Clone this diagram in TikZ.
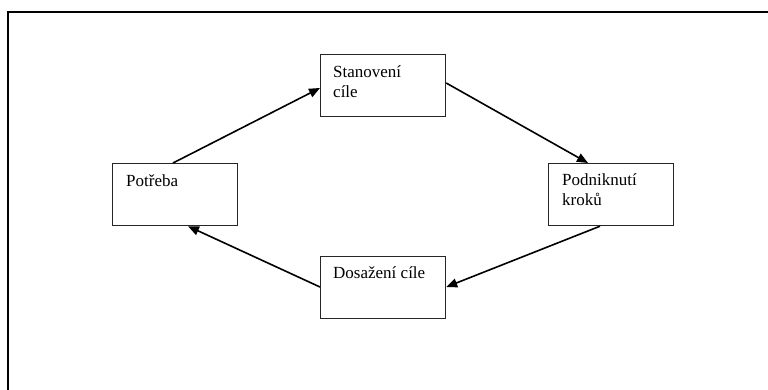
\documentclass[tikz,border=0pt]{standalone}
\usepackage{fontspec}
\setmainfont{Liberation Serif}
\usetikzlibrary{arrows.meta}
\begin{document}
\begin{tikzpicture}[x=1pt,y=-1pt,
  box/.style={draw=black!85, line width=1.2pt, rectangle, minimum width=125pt, minimum height=62pt, anchor=north west, inner sep=0pt},
  txt/.style={anchor=base west, inner sep=0pt, align=left, font=\fontsize{17}{20}\selectfont},
  conn/.style={line width=1.6pt, -{Triangle[length=11pt,width=9pt]}},
  frame/.style={line width=2.2pt}]
\useasboundingbox (0,0) rectangle (768,389);
% outer frame
\coordinate (ftr) at (770,12);
\coordinate (ftl) at (8,12);
\coordinate (fbl) at (8,391);
\draw[frame] (ftr) -- (ftl) -- (fbl);
% boxes
\node[box] (sta) at (320,54) {};
\node[box] (pot) at (112,163) {};
\node[box] (pod) at (548,163) {};
\node[box] (dos) at (320,256) {};
% texts
\node[txt] (staT) at ([shift={(13,43)}]sta.north west) {Stanovení\\cíle};
\node[txt] (potT) at ([shift={(14,23)}]pot.north west) {Potřeba};
\node[txt] (podT) at ([shift={(14,42)}]pod.north west) {Podniknutí\\kroků};
\node[txt] (dosT) at ([shift={(13,22)}]dos.north west) {Dosažení cíle};
% connectors
\draw[conn] ([shift={(61,0)}]pot.north west) -- ([shift={(0,34)}]sta.north west);
\draw[conn] ([shift={(0,29)}]sta.north east) -- ([shift={(40,0)}]pod.north west);
\draw[conn] ([shift={(52,0)}]pod.south west) -- ([shift={(0,31)}]dos.north east);
\draw[conn] ([shift={(0,31)}]dos.north west) -- ([shift={(76,0)}]pot.south west);
\end{tikzpicture}
\end{document}
